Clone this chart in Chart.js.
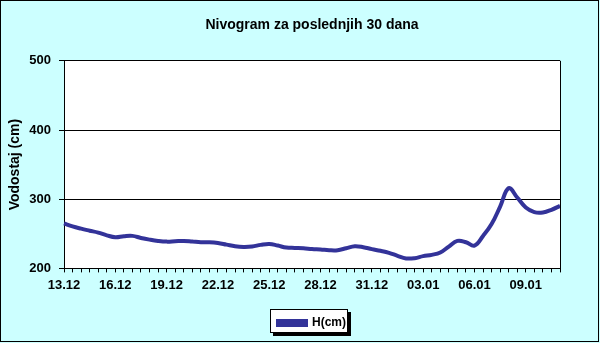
<!DOCTYPE html>
<html>
<head>
<meta charset="utf-8">
<script src="https://cdn.jsdelivr.net/npm/chart.js@4.4.1/dist/chart.umd.min.js"></script>
<style>
  html, body { margin: 0; padding: 0; background: #ffffff; }
  #wrap { width: 600px; height: 343px; }
</style>
</head>
<body>
<div id="wrap"><canvas id="c" width="600" height="343"></canvas></div>
<script>
// Days covered (two readings per day, last day only the first reading)
const days = ['13.12','14.12','15.12','16.12','17.12','18.12','19.12','20.12','21.12','22.12',
              '23.12','24.12','25.12','26.12','27.12','28.12','29.12','30.12','31.12','01.01',
              '02.01','03.01','04.01','05.01','06.01','07.01','08.01','09.01','10.01','11.01'];
const readings = ['I', 'II'];

// Water level H(cm) (59 half-day readings)
const hValues = [
  265, 260.7, 257.4, 254.5, 251.7, 247.8, 245, 246.5, 247, 244,
  241.6, 239.7, 238.7, 239.2, 239.7, 238.8, 237.8, 237.8, 236.8, 234.4,
  232, 231, 231.6, 234, 235.4, 233, 230.1, 229.6, 229.1, 228,
  227.3, 226.3, 226.3, 229.1, 232, 230.6, 227.8, 225.4, 222.5, 218.2,
  214.4, 214.8, 217.7, 219.6, 223, 231.6, 239.7, 237.8, 233, 246.9,
  264, 289.4, 316, 302.4, 288, 281.4, 280.9, 284.7, 290.4
];

// Tick labels shown on the category axis
const tickLabels = ['13.12','16.12','19.12','22.12','25.12','28.12','31.12','03.01','06.01','09.01'];
const yTicks = [200, 300, 400, 500];

const categories = [];
days.forEach(d => readings.forEach(r => categories.push(d + ' ' + r)));
categories.length = hValues.length;

const FONT = "'Liberation Sans', Arial, sans-serif";

const decor = {
  id: 'decor',
  beforeDraw(chart) {
    const ctx = chart.ctx;
    const a = chart.chartArea;
    ctx.save();
    ctx.fillStyle = '#ccffff';
    ctx.fillRect(0, 0, chart.width, chart.height);
    ctx.strokeStyle = '#000000';
    ctx.lineWidth = 1;
    ctx.strokeRect(0.5, 0.5, 598, 341);
    ctx.fillStyle = '#ffffff';
    ctx.fillRect(a.left, a.top, a.right - a.left, a.bottom - a.top);
    // legend frame with shadow
    const lg = chart.legend;
    if (lg) {
      const pad = lg.options.labels.padding;
      const fs = 12;
      const cy = lg.top + pad + fs / 2;
      const cx = (lg.left + lg.right) / 2;
      const w = 78, h = 24;
      const x0 = Math.round(cx - w / 2 - 3), y0 = Math.round(cy - h / 2 - 2);
      ctx.fillStyle = '#000000';
      ctx.fillRect(x0 + 3, y0 + 3, w, h);
      ctx.fillStyle = '#ffffff';
      ctx.fillRect(x0, y0, w, h);
      ctx.strokeStyle = '#000000';
      ctx.strokeRect(x0 + 0.5, y0 + 0.5, w - 1, h - 1);
    }
    ctx.restore();
  },
  afterDatasetsDraw(chart) {
    const ctx = chart.ctx;
    const a = chart.chartArea;
    ctx.save();
    ctx.strokeStyle = '#000000';
    ctx.lineWidth = 1;
    ctx.beginPath();
    ctx.moveTo(Math.round(a.right) + 0.5, a.top);
    ctx.lineTo(Math.round(a.right) + 0.5, a.bottom);
    ctx.stroke();
    ctx.restore();
  }
};

new Chart(document.getElementById('c'), {
  type: 'line',
  data: {
    labels: categories,
    datasets: [{
      label: 'H(cm)',
      data: hValues,
      borderColor: '#333399',
      backgroundColor: '#333399',
      borderWidth: 4,
      pointRadius: 0,
      tension: 0.4,
      fill: false
    }]
  },
  options: {
    responsive: false,
    animation: false,
    events: [],
    layout: { padding: { left: 0, right: 40, top: 0, bottom: 4 } },
    plugins: {
      title: {
        display: true,
        fullSize: false,
        text: 'Nivogram za poslednjih 30 dana',
        color: '#000000',
        font: { family: FONT, size: 14, weight: 'bold' },
        padding: { top: 17, bottom: 27 }
      },
      legend: {
        display: true,
        position: 'bottom',
        fullSize: false,
        labels: {
          color: '#000000',
          font: { family: FONT, size: 12, weight: 'bold' },
          boxWidth: 28,
          boxHeight: 4,
          padding: 19
        }
      },
      tooltip: { enabled: false }
    },
    scales: {
      x: {
        type: 'category',
        offset: false,
        grid: {
          display: true,
          drawOnChartArea: false,
          drawTicks: true,
          tickLength: 4,
          color: '#000000',
          lineWidth: 1
        },
        border: { display: true, color: '#000000', width: 1 },
        ticks: {
          autoSkip: false,
          maxRotation: 0,
          minRotation: 0,
          padding: 5,
          color: '#000000',
          font: { family: FONT, size: 13, weight: 'bold' },
          callback: (v, i) => (i % 6 === 0 ? tickLabels[i / 6] : '')
        }
      },
      y: {
        min: 200,
        max: 500,
        afterFit: s => { s.width = 64; },
        afterBuildTicks: s => { s.ticks = yTicks.map(v => ({ value: v })); },
        grid: {
          display: true,
          drawOnChartArea: true,
          drawTicks: true,
          tickLength: 5,
          color: '#000000',
          lineWidth: 1
        },
        border: { display: true, color: '#000000', width: 1 },
        ticks: {
          padding: 8,
          color: '#000000',
          font: { family: FONT, size: 13, weight: 'bold' }
        },
        title: {
          display: true,
          text: 'Vodostaj (cm)',
          color: '#000000',
          font: { family: FONT, size: 14, weight: 'bold' },
          padding: { top: 7, bottom: 0 }
        }
      }
    }
  },
  plugins: [decor]
});
</script>
</body>
</html>
